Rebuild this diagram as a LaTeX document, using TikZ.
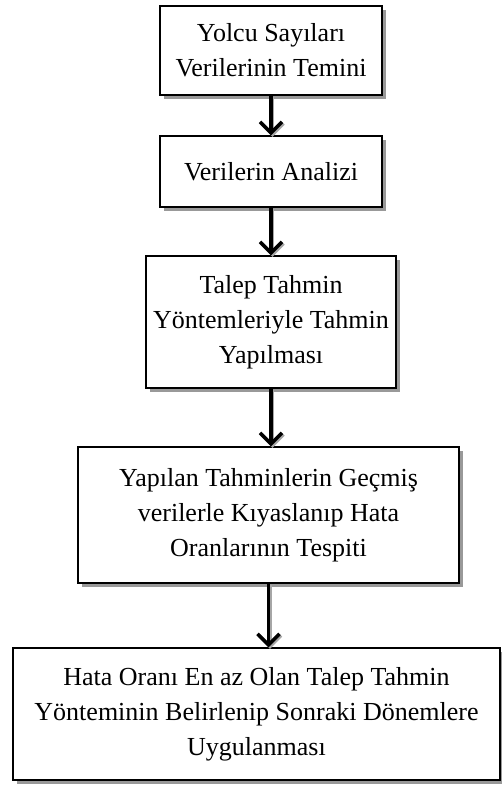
\documentclass[tikz,border=0pt]{standalone}
\usepackage{fontspec}
\setmainfont{Liberation Serif}
\usetikzlibrary{shadows,arrows.meta}
\tikzset{
  stepbox/.style={draw, line width=1.4pt, fill=white, align=center, inner sep=0pt,
    font=\fontsize{26}{35}\selectfont,
    drop shadow={fill=black!40, opacity=1, shadow xshift=4pt, shadow yshift=-4pt}},
  flowarrow/.style={line width=3.5pt, -{Straight Barb[length=11pt,width=22pt]}},
  arrowshadow/.style={flowarrow, black!35, transform canvas={xshift=1.5pt, yshift=-1.5pt}}
}
\begin{document}
\begin{tikzpicture}[x=1pt, y=-1pt]
  \useasboundingbox (0,0) rectangle (502,785);
  \node[stepbox, minimum width=222pt, minimum height=89pt] (temin) at (271,50.5) {Yolcu Sayıları\\Verilerinin Temini};
  \node[stepbox, minimum width=222pt, minimum height=71pt] (analiz) at (271,171.5) {Verilerin Analizi};
  \node[stepbox, minimum width=250pt, minimum height=132pt] (tahmin) at (271,322) {Talep Tahmin\\Yöntemleriyle Tahmin\\Yapılması};
  \node[stepbox, minimum width=381pt, minimum height=136pt] (kiyas) at (268.5,515) {Yapılan Tahminlerin Geçmiş\\verilerle Kıyaslanıp Hata\\Oranlarının Tespiti};
  \node[stepbox, minimum width=487pt, minimum height=132pt] (uygula) at (256.5,714) {Hata Oranı En az Olan Talep Tahmin\\Yönteminin Belirlenip Sonraki Dönemlere\\Uygulanması};
  % arrow shadows
  \draw[arrowshadow] (temin.south) -- (temin.south |- analiz.north);
  \draw[arrowshadow] (analiz.south) -- (analiz.south |- tahmin.north);
  \draw[arrowshadow] (tahmin.south) -- (tahmin.south |- kiyas.north);
  \draw[arrowshadow] (kiyas.south) -- (kiyas.south |- uygula.north);
  % arrows
  \draw[flowarrow] (temin.south) -- (temin.south |- analiz.north);
  \draw[flowarrow] (analiz.south) -- (analiz.south |- tahmin.north);
  \draw[flowarrow] (tahmin.south) -- (tahmin.south |- kiyas.north);
  \draw[flowarrow] (kiyas.south) -- (kiyas.south |- uygula.north);
\end{tikzpicture}
\end{document}
